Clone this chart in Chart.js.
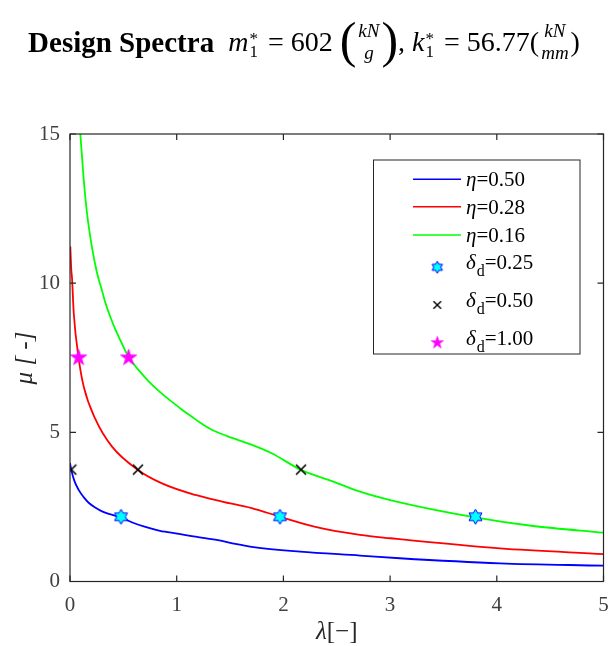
<!DOCTYPE html>
<html><head><meta charset="utf-8">
<script src="https://cdn.jsdelivr.net/npm/chart.js@4.4.1/dist/chart.umd.min.js"></script>
<style>
html,body{margin:0;padding:0;background:#fff;width:608px;height:646px;overflow:hidden}
#wrap{position:relative;width:608px;height:646px}
#c{position:absolute;left:0;top:0}
#title{position:absolute;top:12px;left:0;width:608px;height:60px;display:flex;justify-content:center;align-items:center;font-family:'Liberation Serif','Times New Roman',serif;color:#000;white-space:nowrap}
.b{font-weight:bold;font-size:29px;margin-right:14px}
.m{font-size:28px}
.ss{display:inline-flex;flex-direction:column;font-size:17px;line-height:13px;vertical-align:middle;margin:0 3px 0 1px;position:relative;top:3px}
.frac{display:inline-flex;flex-direction:column;align-items:center;font-size:19px;line-height:22px;vertical-align:middle;font-style:italic;margin:0 2px}
.big{font-size:50px;line-height:50px;position:relative;top:-2px}
</style></head>
<body><div id="wrap">
<canvas id="c" width="608" height="646"></canvas>
<div id="title">
 <span class="b">Design Spectra</span>
 <span class="m"><i>m</i></span><span class="ss"><span>*</span><span>1</span></span><span class="m">&nbsp;=&nbsp;602&nbsp;</span><span class="big">(</span><span class="frac"><span>kN</span><span>g</span></span><span class="big">)</span><span class="m">,&nbsp;<i>k</i></span><span class="ss"><span>*</span><span>1</span></span><span class="m">&nbsp;=&nbsp;56.77(</span><span class="frac"><span>kN</span><span>mm</span></span><span class="m">)</span>
</div>
</div>
<script>
// ---- data ----
const lamBlue = [0, 0.012, 0.04, 0.081, 0.13, 0.175, 0.24, 0.30, 0.39, 0.478, 0.59, 0.706, 0.843, 1.02, 1.156, 1.40, 1.55, 1.72, 2.156, 2.718, 3.09, 4.03, 5.0];
const muBlue  = [3.97, 3.74, 3.38, 3.07, 2.82, 2.64, 2.47, 2.35, 2.24, 2.15, 1.97, 1.83, 1.70, 1.60, 1.51, 1.38, 1.26, 1.15, 1.00, 0.87, 0.78, 0.61, 0.53];
const lamRed  = [0.003, 0.012, 0.019, 0.035, 0.081, 0.128, 0.237, 0.394, 0.637, 0.862, 1.175, 1.425, 1.703, 1.968, 2.31, 2.718, 3.0, 4.03, 5.0];
const muRed   = [11.23, 10.45, 10.17, 9.0, 7.49, 6.54, 5.45, 4.52, 3.74, 3.29, 2.90, 2.68, 2.46, 2.17, 1.82, 1.56, 1.45, 1.11, 0.92];
const lamGreen= [0.097, 0.128, 0.159, 0.206, 0.253, 0.30, 0.331, 0.38, 0.425, 0.47, 0.55, 0.64, 0.737, 0.85, 0.956, 1.05, 1.143, 1.218, 1.312, 1.468, 1.7, 1.89, 2.165, 2.468, 2.718, 3.0, 3.796, 4.34, 5.0];
const muGreen = [15.0, 13.5, 12.36, 11.2, 10.35, 9.75, 9.35, 8.85, 8.45, 8.1, 7.52, 7.10, 6.71, 6.33, 6.02, 5.76, 5.52, 5.33, 5.12, 4.88, 4.59, 4.30, 3.74, 3.35, 3.01, 2.73, 2.15, 1.86, 1.64];
const lamD25 = [0.478, 1.968, 3.80];
const muD25  = [2.17, 2.17, 2.17];
const lamD50 = [0.012, 0.637, 2.165];
const muD50  = [3.75, 3.75, 3.75];
const lamD100 = [0.081, 0.55];
const muD100  = [7.5, 7.5];
const xTicks = [0, 1, 2, 3, 4, 5];
const yTicks = [0, 5, 10, 15];
const lineLabels = ['0.50', '0.28', '0.16'];
const markerLabels = ['0.25', '0.50', '1.00'];

const pts = (xs, ys) => xs.map((x, i) => ({x: x, y: ys[i]}));

function starCanvas(n, rOut, rIn, fill, stroke, lw) {
  const s = Math.ceil(rOut * 2 + 4);
  const c = document.createElement('canvas');
  c.width = s; c.height = s;
  const g = c.getContext('2d');
  g.translate(s / 2, s / 2);
  g.beginPath();
  for (let i = 0; i < 2 * n; i++) {
    const a = -Math.PI / 2 + i * Math.PI / n;
    const r = i % 2 === 0 ? rOut : rIn;
    const px = r * Math.cos(a), py = r * Math.sin(a);
    if (i === 0) g.moveTo(px, py); else g.lineTo(px, py);
  }
  g.closePath();
  g.fillStyle = fill; g.fill();
  if (stroke) { g.strokeStyle = stroke; g.lineWidth = lw; g.stroke(); }
  return c;
}
function crossCanvas(h, lw) {
  const s = Math.ceil(h * 2 + 4);
  const c = document.createElement('canvas');
  c.width = s; c.height = s;
  const g = c.getContext('2d');
  g.translate(s / 2, s / 2);
  g.strokeStyle = '#000'; g.lineWidth = lw;
  g.beginPath();
  g.moveTo(-h, -h); g.lineTo(h, h);
  g.moveTo(-h, h); g.lineTo(h, -h);
  g.stroke();
  return c;
}
const hexImg = starCanvas(6, 7.5, 7.5 / Math.sqrt(3), '#00ffff', '#0000ff', 1);
const pentImg = starCanvas(5, 8.5, 8.5 * 0.382, '#ff00ff', '#ff00ff', 0.8);
const crossImg = crossCanvas(5, 1.6);
const hexSmall = starCanvas(6, 6, 6 / Math.sqrt(3), '#00ffff', '#0000ff', 1);
const pentSmall = starCanvas(5, 6.5, 6.5 * 0.382, '#ff00ff', '#ff00ff', 0.6);
const crossSmall = crossCanvas(3.8, 1.4);

const AX = '#262626';
const TICK_COLOR = '#404040';
const SERIF = "'Liberation Serif', 'Times New Roman', serif";

const framePlugin = {
  id: 'frame',
  afterDatasetsDraw(chart) {
    const {ctx, chartArea: a, scales: {x, y}} = chart;
    ctx.save();
    ctx.strokeStyle = AX; ctx.lineWidth = 1.2;
    ctx.strokeRect(a.left, a.top, a.right - a.left, a.bottom - a.top);
    ctx.beginPath();
    const tl = 6;
    xTicks.forEach(v => {
      const px = x.getPixelForValue(v);
      ctx.moveTo(px, a.bottom); ctx.lineTo(px, a.bottom - tl);
      ctx.moveTo(px, a.top); ctx.lineTo(px, a.top + tl);
    });
    yTicks.forEach(v => {
      const py = y.getPixelForValue(v);
      ctx.moveTo(a.left, py); ctx.lineTo(a.left + tl, py);
      ctx.moveTo(a.right, py); ctx.lineTo(a.right - tl, py);
    });
    ctx.stroke();

    // axis titles
    ctx.fillStyle = AX;
    ctx.textBaseline = 'alphabetic';
    ctx.font = 'italic 25px ' + SERIF;
    const lw = ctx.measureText('λ').width;
    ctx.font = '25px ' + SERIF;
    const rw = ctx.measureText('[−]').width;
    const cx = (a.left + a.right) / 2;
    let sx = cx - (lw + rw) / 2;
    ctx.font = 'italic 25px ' + SERIF;
    ctx.textAlign = 'left';
    ctx.fillText('λ', sx, 639);
    ctx.font = '25px ' + SERIF;
    ctx.fillText('[−]', sx + lw, 639);

    ctx.save();
    ctx.translate(32, 358);
    ctx.rotate(-Math.PI / 2);
    ctx.font = 'italic 25px ' + SERIF;
    ctx.textAlign = 'center';
    ctx.fillText('μ [ -]', 0, 0);
    ctx.restore();

    // legend
    const L = 373.5, T = 160, R = 580, B = 354;
    ctx.fillStyle = '#fff';
    ctx.fillRect(L, T, R - L, B - T);
    ctx.strokeStyle = AX; ctx.lineWidth = 1;
    ctx.strokeRect(L, T, R - L, B - T);
    const lineCols = ['#0000ff', '#ff0000', '#00ff00'];
    const lineRows = [179.3, 206.7, 235];
    const lineBase = [185.5, 213.5, 241.5];
    ctx.textAlign = 'left';
    lineRows.forEach((ry, i) => {
      ctx.strokeStyle = lineCols[i]; ctx.lineWidth = 1.6;
      ctx.beginPath(); ctx.moveTo(413, ry); ctx.lineTo(461, ry); ctx.stroke();
      ctx.fillStyle = '#000';
      ctx.font = 'italic 21px ' + SERIF;
      ctx.fillText('η', 466, lineBase[i]);
      const w = ctx.measureText('η').width;
      ctx.font = '21px ' + SERIF;
      ctx.fillText('=' + lineLabels[i], 466 + w, lineBase[i]);
    });
    const mRows = [267.3, 305, 342.7];
    const mBase = [268.5, 306.5, 344.5];
    [hexSmall, crossSmall, pentSmall].forEach((img, i) => {
      ctx.drawImage(img, 437.3 - img.width / 2, mRows[i] - img.height / 2);
    });
    mBase.forEach((by, i) => {
      ctx.fillStyle = '#000';
      ctx.font = 'italic 21px ' + SERIF;
      ctx.fillText('δ', 466, by);
      let w = ctx.measureText('δ').width;
      ctx.font = '16px ' + SERIF;
      ctx.fillText('d', 466 + w + 1, by + 7);
      const w2 = ctx.measureText('d').width;
      ctx.font = '21px ' + SERIF;
      ctx.fillText('=' + markerLabels[i], 466 + w + w2 + 1, by);
    });
    ctx.restore();
  }
};

new Chart(document.getElementById('c'), {
  type: 'scatter',
  data: {
    datasets: [
      {label: 'δd=0.25', data: pts(lamD25, muD25), pointStyle: hexImg, pointRadius: 1, borderWidth: 0, order: 0},
      {label: 'δd=0.50', data: pts(lamD50, muD50), pointStyle: crossImg, pointRadius: 1, borderWidth: 0, order: 0},
      {label: 'δd=1.00', data: pts(lamD100, muD100), pointStyle: pentImg, pointRadius: 1, borderWidth: 0, order: 0},
      {label: 'η=0.50', data: pts(lamBlue, muBlue), showLine: true, borderColor: '#0000ff', borderWidth: 1.8, pointRadius: 0, cubicInterpolationMode: 'monotone', order: 1},
      {label: 'η=0.28', data: pts(lamRed, muRed), showLine: true, borderColor: '#ff0000', borderWidth: 1.8, pointRadius: 0, cubicInterpolationMode: 'monotone', order: 1},
      {label: 'η=0.16', data: pts(lamGreen, muGreen), showLine: true, borderColor: '#00ff00', borderWidth: 1.8, pointRadius: 0, cubicInterpolationMode: 'monotone', order: 1}
    ]
  },
  options: {
    responsive: false,
    animation: false,
    events: [],
    layout: {padding: {top: 134, right: 4.5, left: 0, bottom: 0}},
    plugins: {legend: {display: false}, tooltip: {enabled: false}, title: {display: false}},
    scales: {
      x: {
        type: 'linear', min: 0, max: 5,
        afterFit: s => { s.height = 64.5; s.paddingLeft = 0; s.paddingRight = 0; },
        afterBuildTicks: s => { s.ticks = xTicks.map(v => ({value: v})); },
        grid: {display: false, drawTicks: false},
        border: {display: false},
        ticks: {color: TICK_COLOR, font: {family: SERIF, size: 21}, padding: 11}
      },
      y: {
        type: 'linear', min: 0, max: 15,
        afterFit: s => { s.width = 70; s.paddingTop = 0; s.paddingBottom = 0; },
        afterBuildTicks: s => { s.ticks = yTicks.map(v => ({value: v})); },
        grid: {display: false, drawTicks: false},
        border: {display: false},
        ticks: {color: TICK_COLOR, font: {family: SERIF, size: 21}, padding: 10}
      }
    }
  },
  plugins: [framePlugin]
});
</script>
</body></html>
